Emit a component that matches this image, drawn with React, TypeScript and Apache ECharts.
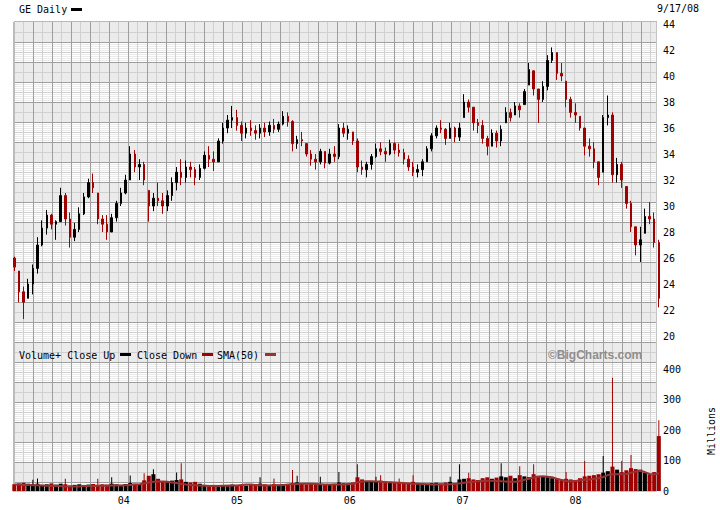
import React, { useEffect, useRef } from 'react';
import * as echarts from 'echarts';

// ---- data (one sample every 15 calendar days) ----
const sampleStart = '2003-01-02';
const sampleStepDays = 15;
const axisStart = '2003-01-01';
const axisEnd = '2008-09-24';

const priceHigh = [
  26.1, 25.0, 23.8, 24.4, 25.5, 27.6, 28.9, 29.7, 29.4, 28.9,
  31.4, 31.0, 29.5, 28.7, 29.9, 31.0, 32.1, 32.5, 31.0, 29.3,
  29.3, 29.4, 30.4, 31.4, 32.4, 34.6, 34.3, 33.6, 33.4, 31.2,
  31.0, 31.8, 31.0, 31.2, 32.2, 33.0, 33.6, 33.5, 33.4, 33.0,
  33.2, 34.2, 34.6, 34.2, 35.2, 36.4, 37.0, 37.7, 37.4, 36.5,
  36.4, 36.6, 36.2, 36.3, 36.4, 36.5, 36.7, 36.5, 37.3, 37.2,
  36.6, 35.4, 35.7, 34.8, 34.3, 34.0, 34.4, 34.2, 34.4, 34.6,
  36.3, 36.4, 36.2, 35.7, 35.2, 33.5, 33.4, 34.0, 34.8, 34.9,
  34.5, 35.1, 34.9, 34.8, 34.4, 33.9, 33.4, 33.2, 33.6, 34.6,
  35.6, 36.2, 36.6, 36.0, 36.4, 36.1, 36.4, 38.6, 38.2, 37.6,
  36.7, 36.6, 35.4, 35.9, 35.8, 36.2, 37.6, 37.5, 38.0, 37.9,
  39.0, 41.0, 40.4, 39.0, 39.6, 41.6, 42.2, 41.8, 41.0, 39.6,
  38.4, 37.9, 36.9, 36.0, 35.2, 34.9, 33.4, 37.0, 38.5, 37.2,
  33.7, 33.4, 31.5, 30.4, 28.4, 28.4, 29.8, 30.3, 29.5, 27.4,
];
const priceLow = [
  25.0, 22.6, 21.3, 22.9, 23.2, 24.8, 26.9, 27.8, 28.2, 27.4,
  28.8, 28.5, 26.8, 27.3, 28.0, 29.3, 30.6, 31.0, 28.6, 28.0,
  27.4, 28.0, 28.8, 30.0, 30.9, 32.0, 32.6, 32.0, 31.6, 28.8,
  29.6, 30.0, 29.4, 29.6, 30.4, 31.2, 31.6, 31.8, 32.2, 31.6,
  32.0, 32.8, 33.0, 32.7, 33.4, 34.8, 35.6, 36.0, 35.8, 35.0,
  35.2, 35.4, 35.1, 35.2, 35.3, 35.4, 35.6, 35.7, 36.2, 36.1,
  34.2, 34.4, 34.6, 33.8, 33.1, 32.8, 33.2, 32.9, 33.2, 33.4,
  33.6, 35.3, 35.1, 34.7, 32.6, 32.4, 32.2, 32.8, 33.7, 33.9,
  33.4, 33.9, 34.0, 33.8, 33.2, 32.7, 32.3, 32.2, 32.3, 33.4,
  34.2, 35.2, 35.6, 34.7, 35.2, 34.9, 35.0, 36.8, 37.2, 35.8,
  35.6, 34.8, 33.9, 34.6, 34.5, 34.6, 36.4, 36.5, 37.0, 36.8,
  37.8, 39.3, 38.5, 36.4, 38.0, 38.9, 41.0, 39.7, 39.6, 37.6,
  36.8, 36.4, 35.8, 33.9, 33.8, 32.9, 31.6, 32.6, 36.2, 31.8,
  31.8, 31.4, 29.8, 28.0, 26.2, 25.7, 27.9, 28.6, 26.8, 22.2,
];
const priceClose = [
  25.3, 23.4, 22.6, 24.0, 25.2, 27.0, 28.3, 29.3, 28.6, 28.8,
  30.8, 29.0, 27.6, 28.2, 29.4, 30.7, 31.8, 31.4, 29.0, 28.6,
  28.0, 29.1, 30.2, 31.0, 32.0, 34.0, 33.0, 33.2, 32.0, 30.0,
  30.6, 30.4, 30.0, 30.8, 31.8, 32.6, 32.2, 33.0, 32.8, 32.2,
  32.9, 33.9, 33.6, 33.4, 35.0, 36.0, 36.6, 36.8, 36.2, 35.6,
  36.0, 35.8, 35.6, 36.0, 35.7, 36.2, 35.9, 36.3, 36.9, 36.5,
  34.8, 35.1, 35.0, 34.0, 33.6, 33.4, 34.2, 33.3, 34.0, 33.8,
  36.0, 35.6, 35.9, 35.0, 33.0, 32.8, 33.2, 33.8, 34.4, 34.2,
  34.0, 34.8, 34.3, 34.1, 33.6, 33.0, 32.6, 32.8, 33.4, 34.4,
  35.4, 36.0, 35.9, 35.2, 36.0, 35.3, 36.0, 38.0, 37.6, 36.4,
  36.2, 35.2, 34.6, 35.6, 35.0, 35.9, 37.2, 36.8, 37.7, 37.4,
  38.8, 40.5, 39.0, 38.2, 39.2, 41.2, 41.8, 40.2, 40.0, 38.2,
  37.2, 37.0, 36.0, 34.6, 34.4, 33.4, 32.2, 36.8, 37.0, 32.4,
  33.2, 32.0, 30.2, 28.4, 27.0, 27.4, 29.2, 29.0, 27.2, 22.9,
];
const firstOpen = 26.0;

// volume, millions
const volumeBase = [
  22, 25, 27, 24, 22, 24, 20, 22, 25, 21,
  24, 22, 18, 20, 22, 19, 21, 23, 20, 22,
  21, 24, 22, 20, 23, 26, 24, 22, 35, 50,
  55, 40, 32, 30, 34, 36, 38, 30, 28, 30,
  24, 20, 18, 20, 19, 18, 20, 21, 19, 20,
  18, 21, 22, 24, 22, 20, 23, 21, 22, 20,
  26, 28, 24, 22, 24, 25, 23, 21, 22, 24,
  28, 26, 25, 28, 45, 38, 32, 32, 30, 34,
  32, 30, 28, 28, 26, 27, 30, 26, 25, 24,
  26, 27, 25, 28, 30, 26, 38, 40, 42, 38,
  36, 42, 45, 40, 44, 48, 45, 50, 42, 52,
  48, 45, 55, 50, 48, 46, 42, 40, 38, 40,
  38, 36, 42, 48, 50, 52, 55, 60, 65, 80,
  70, 62, 68, 75, 72, 70, 60, 55, 62, 180,
];
const spikeSample = [4, 5, 11, 18, 21, 25, 28, 30, 35, 36, 53, 56, 60, 61, 66, 70, 74, 78, 79, 83, 86, 94, 96, 98, 105, 109, 112, 119, 123, 127, 129, 131, 133, 139];
const spikeVolume = [37, 41, 40, 40, 45, 51, 58, 71, 61, 91, 45, 41, 69, 50, 47, 62, 88, 47, 52, 41, 52, 47, 88, 60, 91, 81, 88, 62, 98, 115, 371, 98, 118, 232];
const volumeSma50 = [
  21, 21, 20, 20, 19, 19, 18, 17, 17, 16,
  16, 15, 15, 15, 15, 16, 16, 16, 17, 17,
  17, 18, 18, 18, 19, 20, 21, 22, 25, 28,
  30, 31, 31, 30, 28, 26, 23, 21, 20, 19,
  18, 17, 16, 16, 16, 17, 17, 18, 18, 20,
  21, 21, 20, 19, 18, 18, 19, 19, 20, 21,
  22, 23, 24, 24, 24, 23, 22, 21, 21, 21,
  21, 21, 22, 24, 28, 31, 32, 32, 31, 30,
  29, 29, 28, 27, 26, 25, 24, 24, 23, 22,
  21, 21, 21, 21, 22, 23, 25, 27, 29, 30,
  32, 33, 34, 34, 33, 32, 31, 30, 30, 33,
  37, 40, 44, 47, 48, 47, 45, 40, 36, 33,
  32, 33, 35, 37, 38, 40, 42, 46, 52, 55,
  55, 55, 56, 60, 64, 66, 62, 56, 54, 58,
];

const yearTicks = ['2004-01-01', '2005-01-01', '2006-01-01', '2007-01-01', '2008-01-01'];
const yearLabels = ['04', '05', '06', '07', '08'];

// ---- styling ----
const UP = '#000000';
const DOWN = '#a00000';
const SMA = '#993333';
const MONO = '"DejaVu Sans Mono", "Liberation Mono", monospace';

const DAY = 86400000;

function buildOption() {
  const t0 = Date.parse(sampleStart);
  const ts = priceClose.map((_, i) => t0 + i * sampleStepDays * DAY);
  const opens = priceClose.map((_, i) => {
    const prev = i === 0 ? firstOpen : priceClose[i - 1];
    return Math.min(Math.max(prev, priceLow[i]), priceHigh[i]);
  });
  const up = priceClose.map((c, i) => c >= opens[i]);
  const candle = ts.map((t, i) => [t, opens[i], priceClose[i], priceLow[i], priceHigh[i]]);
  const vol = ts.map((t, i) => ({ value: [t, volumeBase[i]], itemStyle: { color: up[i] ? UP : DOWN } }));
  const spikes = spikeSample.map((s, k) => ({ value: [ts[s], spikeVolume[k]], itemStyle: { color: up[s] ? UP : DOWN } }));
  const sma = ts.map((t, i) => [t, volumeSma50[i]]);
  const yearVals = yearTicks.map((d) => Date.parse(d));
  const xMin = Date.parse(axisStart);
  const xMax = Date.parse(axisEnd);

  // background grid (BigCharts style)
  const PL = 14, PR = 657, PT = 22, PB = 491;
  const W = PR - PL;
  const els: any[] = [];
  const rect = (x: number, y: number, w: number, h: number, fill: string, z = 0) =>
    els.push({ type: 'rect', silent: true, z, shape: { x, y, width: w, height: h }, style: { fill } });
  rect(PL, PT, W, PB - PT, '#ebebeb');
  for (let y0 = PT + 20; y0 < PB; y0 += 40) {
    for (let j = 1; j < 20; j += 2) {
      if (y0 + j < PB) rect(PL, y0 + j, W, 1, '#ffffff');
    }
  }
  for (let x = PL + 9; x < PR; x += 19) rect(x, PT, 1, PB - PT, '#d0d0d0');
  for (let y = PT + 10; y < PB; y += 20) rect(PL, y, W, 1, '#d0d0d0');
  for (let x = PL + 19; x < PR; x += 19) rect(x, PT, 1, PB - PT, '#9e9e9e');
  for (let y = PT + 20; y < PB; y += 20) rect(PL, y, W, 1, '#9e9e9e');
  rect(PL - 1, PT, 2, PB - PT + 1, '#bcbcbc');
  rect(PL, PT - 1, W, 1, '#b8b8b8');
  rect(PR - 1, PT, 1, PB - PT, '#c4c4c4');
  rect(PL, PB, W, 1, '#c4c4c4');

  const txt = (x: number, y: number, text: string, extra: any = {}) =>
    els.push({
      type: 'text', z: 50, x, y, silent: true,
      style: { text, fill: '#000', font: `10px ${MONO}`, verticalAlign: 'middle', align: 'left', ...extra },
    });
  txt(19, 9, 'GE Daily');
  rect(71, 8, 11, 3, '#000', 50);
  txt(657, 8, '9/17/08');
  txt(19, 355, 'Volume+ Close Up');
  rect(120, 353, 11, 3, UP, 50);
  txt(137, 355, 'Close Down');
  rect(202, 353, 11, 3, DOWN, 50);
  txt(217, 355, 'SMA(50)');
  rect(265, 353, 11, 3, SMA, 50);
  txt(548, 355, '\u00a9BigCharts.com', { font: 'bold 12px "Liberation Sans", Arial, sans-serif', fill: '#8e8e8e' });
  els.push({
    type: 'text', z: 50, x: 711, y: 431, rotation: Math.PI / 2, silent: true,
    style: { text: 'Millions', fill: '#000', font: `10px ${MONO}`, align: 'center', verticalAlign: 'middle' },
  });

  const labelStyle = { color: '#000', fontFamily: MONO, fontSize: 10 };

  return {
    animation: false,
    backgroundColor: '#ffffff',
    grid: [
      { left: 14, top: 24, width: 647, height: 312 },
      { left: 14, top: 369, width: 647, height: 122 },
    ],
    xAxis: [
      { type: 'value', gridIndex: 0, min: xMin, max: xMax, show: false },
      {
        type: 'value', gridIndex: 1, min: xMin, max: xMax,
        axisLine: { show: false }, axisTick: { show: false }, splitLine: { show: false },
        axisLabel: {
          ...labelStyle, margin: 4, padding: [0, 6, 0, 0],
          customValues: yearVals,
          formatter: (v: number) => {
            const k = yearVals.indexOf(v);
            return k >= 0 ? yearLabels[k] : '';
          },
        },
      },
      { type: 'value', gridIndex: 1, min: xMin, max: xMax, show: false },
    ],
    yAxis: [
      {
        type: 'value', gridIndex: 0, position: 'right', min: 20, max: 44, interval: 2,
        axisLine: { show: false }, axisTick: { show: false }, splitLine: { show: false },
        axisLabel: { ...labelStyle, margin: 2 },
      },
      {
        type: 'value', gridIndex: 1, position: 'right', min: 0, max: 400, interval: 100,
        axisLine: { show: false }, axisTick: { show: false }, splitLine: { show: false },
        axisLabel: { ...labelStyle, margin: 2 },
      },
    ],
    series: [
      {
        type: 'candlestick', xAxisIndex: 0, yAxisIndex: 0, barWidth: 2, data: candle,
        itemStyle: { color: UP, color0: DOWN, borderColor: UP, borderColor0: DOWN, borderWidth: 1 },
        z: 5, silent: true, clip: false,
      },
      {
        type: 'bar', xAxisIndex: 1, yAxisIndex: 1, barWidth: 4, data: vol, z: 5, silent: true, clip: false,
      },
      {
        type: 'bar', xAxisIndex: 2, yAxisIndex: 1, barWidth: 1, data: spikes, z: 6, silent: true, clip: false,
      },
      {
        type: 'line', xAxisIndex: 1, yAxisIndex: 1, data: sma, symbol: 'none', z: 7, silent: true,
        lineStyle: { color: SMA, width: 2 },
      },
    ],
    graphic: { elements: els },
  };
}

export default function App() {
  const ref = useRef<HTMLDivElement>(null);
  useEffect(() => {
    if (!ref.current) return;
    const chart = echarts.init(ref.current, null, { renderer: 'svg' });
    chart.setOption(buildOption() as any);
    return () => chart.dispose();
  }, []);
  return (
    <div
      ref={ref}
      style={{ position: 'fixed', left: 0, top: 0, width: 720, height: 510, background: '#fff' }}
    />
  );
}
